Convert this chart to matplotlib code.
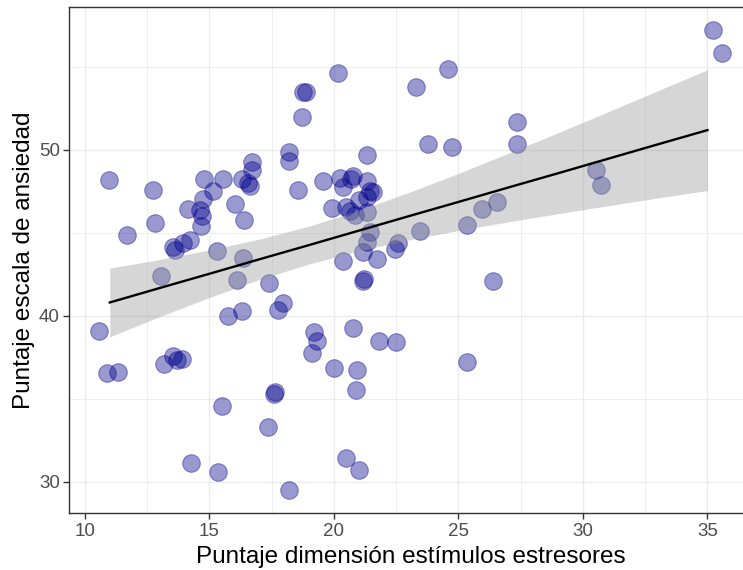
import matplotlib
matplotlib.use("Agg")
import matplotlib.pyplot as plt
from matplotlib.ticker import MultipleLocator

plt.rcParams['font.family'] = ['Liberation Sans', 'DejaVu Sans']

# scatter points (jittered)
estimulos = [10.58, 10.87, 11.34, 10.96, 12.73, 12.82, 11.70, 13.05, 13.61, 13.55,
             13.95, 14.22, 14.15, 14.65, 14.62, 14.71, 14.75, 14.79, 15.15, 15.55,
             15.29, 16.04, 16.40, 16.29, 16.56, 16.63, 16.69, 16.69, 16.36, 16.09,
             17.40, 18.20, 18.20, 18.55, 18.73, 18.77, 18.88, 20.17, 23.30, 23.79,
             24.59, 24.73, 27.36, 27.34, 30.52, 30.72, 35.23, 35.57, 26.53, 25.93,
             25.33, 23.45, 26.37, 25.35,
             21.31, 19.57, 20.24, 20.37, 20.78, 20.70, 21.31, 21.45, 21.58, 21.31,
             21.02, 19.94, 20.50, 20.64, 20.84, 21.31, 21.45, 21.31, 21.18, 21.71,
             20.37, 22.58, 22.45,
             17.96, 17.76, 21.17, 21.20, 19.21, 19.31, 19.12, 20.75, 21.82, 22.48,
             20.00, 20.94, 20.88, 20.47, 21.02, 18.19, 15.76, 16.32, 13.18, 13.52,
             13.68, 13.88, 17.60, 17.62, 15.51, 17.34, 14.26, 15.33]
ansiedad = [39.10, 36.53, 36.60, 48.21, 47.59, 45.62, 44.87, 42.42, 43.97, 44.17,
            44.41, 44.57, 46.42, 45.42, 46.38, 46.02, 47.06, 48.25, 47.53, 48.25,
            43.93, 46.74, 45.78, 48.25, 47.99, 47.85, 49.24, 48.79, 43.47, 42.16,
            42.00, 49.90, 49.35, 47.60, 52.00, 53.48, 53.48, 54.66, 53.78, 50.34,
            54.89, 50.20, 51.65, 50.36, 48.79, 47.89, 57.20, 55.87, 46.88, 46.42,
            45.48, 45.12, 42.12, 37.23,
            49.68, 48.15, 48.29, 47.79, 48.43, 48.25, 48.15, 47.49, 47.43, 47.18,
            46.98, 46.48, 46.54, 46.34, 46.08, 46.28, 45.07, 44.47, 43.87, 43.40,
            43.32, 44.41, 44.01,
            40.75, 40.35, 42.12, 42.20, 39.00, 38.50, 37.77, 39.25, 38.48, 38.40,
            36.87, 36.73, 35.52, 31.41, 30.70, 29.49, 40.00, 40.29, 37.09, 37.59,
            37.33, 37.38, 35.27, 35.40, 34.56, 33.27, 31.10, 30.56]

# regression line and 95% band
fit_x = [11, 13, 15, 17, 19, 21, 23, 25, 27, 29, 31, 33, 35]
fit_y = [40.80, 41.67, 42.53, 43.40, 44.26, 45.13, 46.00, 46.86, 47.73, 48.59, 49.46, 50.33, 51.19]
band_lo = [38.73, 39.95, 41.10, 42.18, 43.12, 43.91, 44.57, 45.14, 45.66, 46.15, 46.63, 47.10, 47.55]
band_hi = [42.87, 43.39, 43.96, 44.62, 45.40, 46.35, 47.43, 48.58, 49.80, 51.03, 52.29, 53.56, 54.83]

fig = plt.figure(figsize=(7.43, 5.70), dpi=100)
ax = fig.add_axes([0.0935, 0.0995, 0.92, 0.889])

ax.scatter(estimulos, ansiedad, s=160, color='darkblue', alpha=0.4,
           edgecolors='darkblue', linewidths=0.8, zorder=2)
ax.fill_between(fit_x, band_lo, band_hi, color='#999999', alpha=0.4,
                linewidth=0, zorder=3)
ax.plot(fit_x, fit_y, color='black', linewidth=1.7, zorder=4)

ax.set_xlim(9.38, 36.83)
ax.set_ylim(28.09, 58.64)
ax.xaxis.set_major_locator(MultipleLocator(5))
ax.xaxis.set_minor_locator(MultipleLocator(2.5))
ax.yaxis.set_major_locator(MultipleLocator(10))
ax.yaxis.set_minor_locator(MultipleLocator(5))

ax.grid(which='major', color='#EBEBEB', linewidth=1.0, zorder=0)
ax.grid(which='minor', color='#EBEBEB', linewidth=0.6, zorder=0)
ax.set_axisbelow(True)
for sp in ax.spines.values():
    sp.set_color('#333333')
    sp.set_linewidth(1.0)

ax.tick_params(which='major', length=4, width=1, color='#333333',
               labelcolor='#4D4D4D', labelsize=13.5, pad=3)
ax.tick_params(which='minor', length=0)

ax.set_xlabel('Puntaje dimensión estímulos estresores', fontsize=17.5, labelpad=4)
ax.set_ylabel('Puntaje escala de ansiedad', fontsize=17.5, labelpad=3)

fig.savefig('out.png', dpi=100)
